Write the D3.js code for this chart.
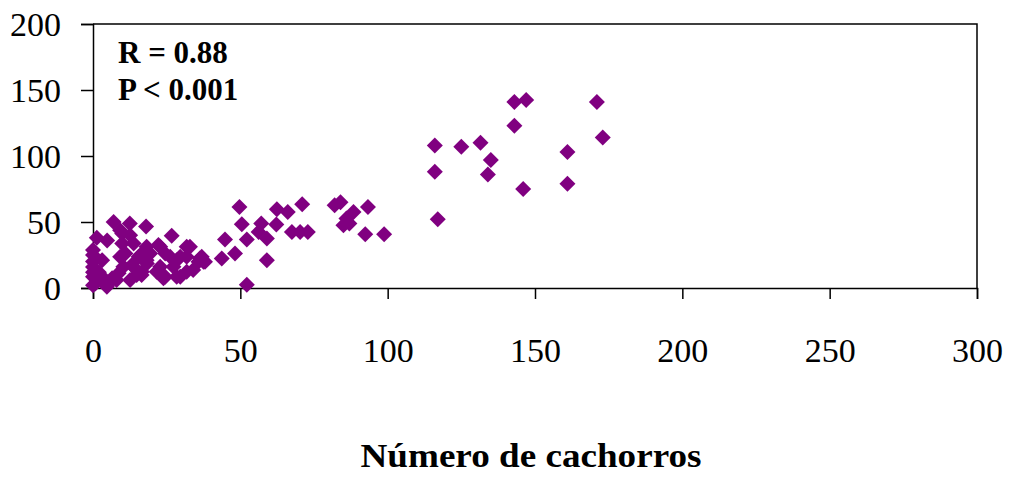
<!DOCTYPE html>
<html>
<head>
<meta charset="utf-8">
<script src="https://cdn.jsdelivr.net/npm/d3@7"></script>
<style>
  html, body { margin: 0; padding: 0; background: #fff; }
  svg { display: block; }
  text { font-family: "Liberation Serif", "Times New Roman", serif; fill: #000; }
</style>
</head>
<body>
<svg id="chart" width="1011" height="477"></svg>
<script>
// Number of pups (x) against the response variable (y)
const pupsX = [
  116, 125, 131.5, 135, 134, 116, 117, 143, 147, 143, 146, 171, 173, 161, 161,
  82, 84, 88.4, 93.3, 86, 85, 87, 92.4, 98.8, 71, 67.5, 70.3, 72.9, 66.1, 62.4,
  62.2, 59, 57.1, 56.2, 59, 52.2, 50.5, 49.7, 44.8, 43.7, 48.2, 52.2, 37.5,
  7, 12.5, 18, 26.7, 1.3, 4.8, 9.9, 9.2, 12.6, 9.9, 13.8, 0, 0, 0, 0, 3.1, 11,
  15.5, 13.2, 8.7, 3.1, 0.8, 5.3, 6.5, 16.6, 18.3, 1.3, 4.7, 21.6, 14.8, 12.6, 8,
  34, 36.9, 29.6, 26.2, 35.8, 31.8, 27.3, 23.9, 29.6, 22.8, 19.4, 16, 13.7, 10.3,
  9.2, 18.2, 22.2, 24.5, 32.9, 31.8, 36.3, 38, 28.4, 22.8, 18.2, 24.5, 28.4, 31.8,
  16.5, 0, 2, 0, 0
];
const valuesY = [
  108, 107, 110, 97, 86, 88, 52, 141, 142.5, 123, 75, 141, 114, 103, 79,
  62.6, 65, 57.6, 61.4, 52.6, 47.5, 48.8, 40.8, 40.8, 63.4, 42.5, 42.5, 42.5, 57.6, 59.6,
  48.1, 21.1, 48.8, 42.5, 37.5, 36.7, 48.3, 61.4, 36.7, 22.4, 26.2, 2.5, 19.8,
  50, 48.8, 46.5, 39.6, 38, 36, 41.3, 43.8, 40, 33.7, 33.7, 25, 28.7, 16, 8.5, 21.1, 26.2,
  23.6, 17.4, 11.1, 8.5, 3.5, 3.5, 7.3, 12.3, 18.6, 6, 1, 12.3, 9.8, 6, 6,
  13.6, 23.6, 23.6, 23.6, 19.8, 31.2, 16.1, 7.3, 8.5, 31.2, 26.2, 24.9, 16.1, 16.1,
  23.6, 31.2, 32.5, 26.2, 31.2, 23.6, 22.4, 19.8, 21.1, 16.1, 21.1, 8.5, 8.5, 12.3,
  9.8, 2, 12, 20, 12
];
const xTicks = [0, 50, 100, 150, 200, 250, 300];
const yTicks = [0, 50, 100, 150, 200];
const statLines = ["R = 0.88", "P < 0.001"];
const xTitle = "Número de cachorros";

const svg = d3.select("#chart");
const plotLeft = 93, plotRight = 977, plotTop = 24, plotBottom = 288;

const x = d3.scaleLinear().domain([0, 300]).range([plotLeft, plotRight]);
const y = d3.scaleLinear().domain([0, 200]).range([plotBottom, plotTop]);

// plot frame (top and right edges)
svg.append("path")
  .attr("d", `M${plotLeft},${plotTop}H${plotRight}V${plotBottom}`)
  .attr("fill", "none").attr("stroke", "#000").attr("stroke-width", 1.5);

// x axis
const xAxis = svg.append("g").attr("transform", `translate(0,${plotBottom})`)
  .call(d3.axisBottom(x).tickValues(xTicks).tickSize(11).tickPadding(0).tickFormat(d3.format("d")));
xAxis.select(".domain").attr("stroke-width", 1.5);
xAxis.selectAll(".tick line").attr("stroke-width", 1.5);
xAxis.selectAll(".tick text")
  .attr("font-family", "Liberation Serif").attr("font-size", 34)
  .attr("dy", null).attr("y", 74);

// y axis
const yAxis = svg.append("g").attr("transform", `translate(${plotLeft},0)`)
  .call(d3.axisLeft(y).tickValues(yTicks).tickSize(12).tickPadding(20).tickFormat(d3.format("d")));
yAxis.select(".domain").attr("stroke-width", 1.5);
yAxis.selectAll(".tick line").attr("stroke-width", 1.5);
yAxis.selectAll(".tick text")
  .attr("font-family", "Liberation Serif").attr("font-size", 34)
  .attr("dy", "0.34em");

// points as diamonds
const diamond = d3.symbol().type(d3.symbolSquare).size(128)();
svg.append("g").selectAll("path")
  .data(pupsX.map((v, i) => [v, valuesY[i]]))
  .join("path")
  .attr("d", diamond)
  .attr("transform", d => `translate(${x(d[0])},${y(d[1])}) rotate(45)`)
  .attr("fill", "#800080");

// statistics annotation
svg.append("g").selectAll("text")
  .data(statLines)
  .join("text")
  .attr("x", 118)
  .attr("y", (d, i) => 63 + i * 37)
  .attr("font-weight", "bold")
  .attr("font-size", 31)
  .text(d => d);

// x axis title
svg.append("text")
  .attr("x", 531).attr("y", 467)
  .attr("text-anchor", "middle")
  .attr("font-weight", "bold")
  .attr("font-size", 34)
  .attr("textLength", 341)
  .attr("lengthAdjust", "spacingAndGlyphs")
  .text(xTitle);
</script>
</body>
</html>
